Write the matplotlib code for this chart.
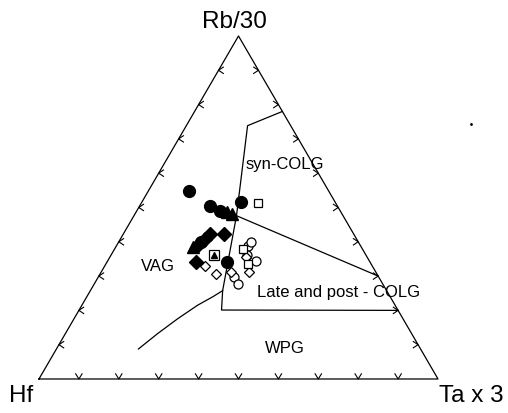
import matplotlib
matplotlib.use('Agg')
import matplotlib.pyplot as plt
import numpy as np

plt.rcParams['font.family'] = ['Liberation Sans', 'DejaVu Sans']

# ternary data as (Hf, Rb/30, Ta x 3) fractions
filled_circles = [(0.35, 0.547, 0.103), (0.319, 0.505, 0.176), (0.301, 0.491, 0.208),
                  (0.236, 0.517, 0.247), (0.358, 0.340, 0.302), (0.394, 0.399, 0.207)]
filled_triangles = [(0.277, 0.481, 0.242), (0.286, 0.487, 0.227), (0.421, 0.385, 0.194)]
filled_diamonds = [(0.36, 0.423, 0.217), (0.324, 0.423, 0.253), (0.436, 0.340, 0.224),
                   (0.381, 0.408, 0.211), (0.403, 0.394, 0.203)]
square_triangle = [(0.381, 0.362, 0.257)]
open_squares = [(0.194, 0.512, 0.294), (0.299, 0.379, 0.322), (0.309, 0.335, 0.356)]
open_circles = [(0.281, 0.389, 0.33), (0.268, 0.399, 0.333), (0.283, 0.345, 0.372),
                (0.362, 0.297, 0.341), (0.364, 0.277, 0.359), (0.297, 0.362, 0.341)]
open_diamonds = [(0.42, 0.330, 0.25), (0.403, 0.306, 0.291), (0.363, 0.311, 0.326),
                 (0.317, 0.311, 0.372), (0.303, 0.355, 0.342)]

# field boundaries
boundary_main = [(0.0, 0.78, 0.22), (0.108, 0.7385, 0.1535), (0.267, 0.476, 0.257),
                 (0.411, 0.2575, 0.3315), (0.442, 0.201, 0.357), (0.0, 0.2, 0.8)]
boundary_colg = [(0.267, 0.476, 0.257), (0.0, 0.3, 0.7)]
boundary_curve = [(0.411, 0.2575, 0.3315), (0.444, 0.240, 0.316), (0.495, 0.215, 0.290),
                  (0.564, 0.176, 0.260), (0.637, 0.132, 0.231), (0.707, 0.0875, 0.2055)]

tick_vals = [0.1, 0.2, 0.3, 0.4, 0.5, 0.6, 0.7, 0.8, 0.9]

H = np.sqrt(3) / 2


def to_xy(pts):
    p = np.array(pts, dtype=float)
    rb, ta = p[:, 1], p[:, 2]
    return ta + rb / 2, rb * H


fig = plt.figure(figsize=(5.08, 4.14), dpi=100)
ax = fig.add_axes([0, 0, 1, 1])
ax.set_xlim(-0.0977, 1.1754)
ax.set_ylim(-0.0859, 0.9594)
ax.axis('off')

# triangle frame
ax.plot([0, 1, 0.5, 0], [0, 0, H, 0], color='black', lw=0.9)

# chevron ticks
for t in tick_vals:
    # bottom edge
    ax.plot([t - 0.008, t, t + 0.008], [0.013, 0, 0.013], color='black', lw=0.8)
    # left edge
    lx, ly = t / 2, t * H
    ax.plot([lx + 0.012, lx, lx + 0.012], [ly + 0.008, ly, ly - 0.008], color='black', lw=0.8)
    # right edge
    rx, ry = 1 - t / 2, t * H
    ax.plot([rx - 0.012, rx, rx - 0.012], [ry + 0.008, ry, ry - 0.008], color='black', lw=0.8)

for line in (boundary_main, boundary_colg, boundary_curve):
    x, y = to_xy(line)
    ax.plot(x, y, color='black', lw=0.9)

# samples
x, y = to_xy(open_circles)
ax.plot(x, y, 'o', ms=6.5, mfc='white', mec='black', mew=0.9, ls='none')
x, y = to_xy(open_diamonds)
ax.plot(x, y, 'D', ms=5.2, mfc='white', mec='black', mew=0.9, ls='none')
x, y = to_xy(open_squares)
ax.plot(x, y, 's', ms=6.3, mfc='white', mec='black', mew=0.9, ls='none')
x, y = to_xy(square_triangle)
ax.plot(x, y, 's', ms=6.5, mfc='white', mec='black', mew=0.9, ls='none')
ax.plot(x, y, '^', ms=5, color='black', ls='none')
x, y = to_xy(filled_diamonds)
ax.plot(x, y, 'D', ms=7, color='black', ls='none')
x, y = to_xy(filled_triangles)
ax.plot(x, y, '^', ms=8, color='black', ls='none')
x, y = to_xy(filled_circles)
ax.plot(x, y, 'o', ms=8.5, color='black', ls='none')

# stray speck in the scan
ax.plot([1.082], [0.644], '.', ms=2, color='black')

# labels
ax.text(0.49, 0.903, 'Rb/30', ha='center', va='center', fontsize=17.5)
ax.text(-0.046, -0.040, 'Hf', ha='center', va='center', fontsize=17.5)
ax.text(1.084, -0.040, 'Ta x 3', ha='center', va='center', fontsize=17.5)
ax.text(0.615, 0.543, 'syn-COLG', ha='center', va='center', fontsize=12)
ax.text(0.297, 0.286, 'VAG', ha='center', va='center', fontsize=12)
ax.text(0.751, 0.220, 'Late and post - COLG', ha='center', va='center', fontsize=12)
ax.text(0.615, 0.080, 'WPG', ha='center', va='center', fontsize=12)

fig.savefig('out.png', dpi=100)
